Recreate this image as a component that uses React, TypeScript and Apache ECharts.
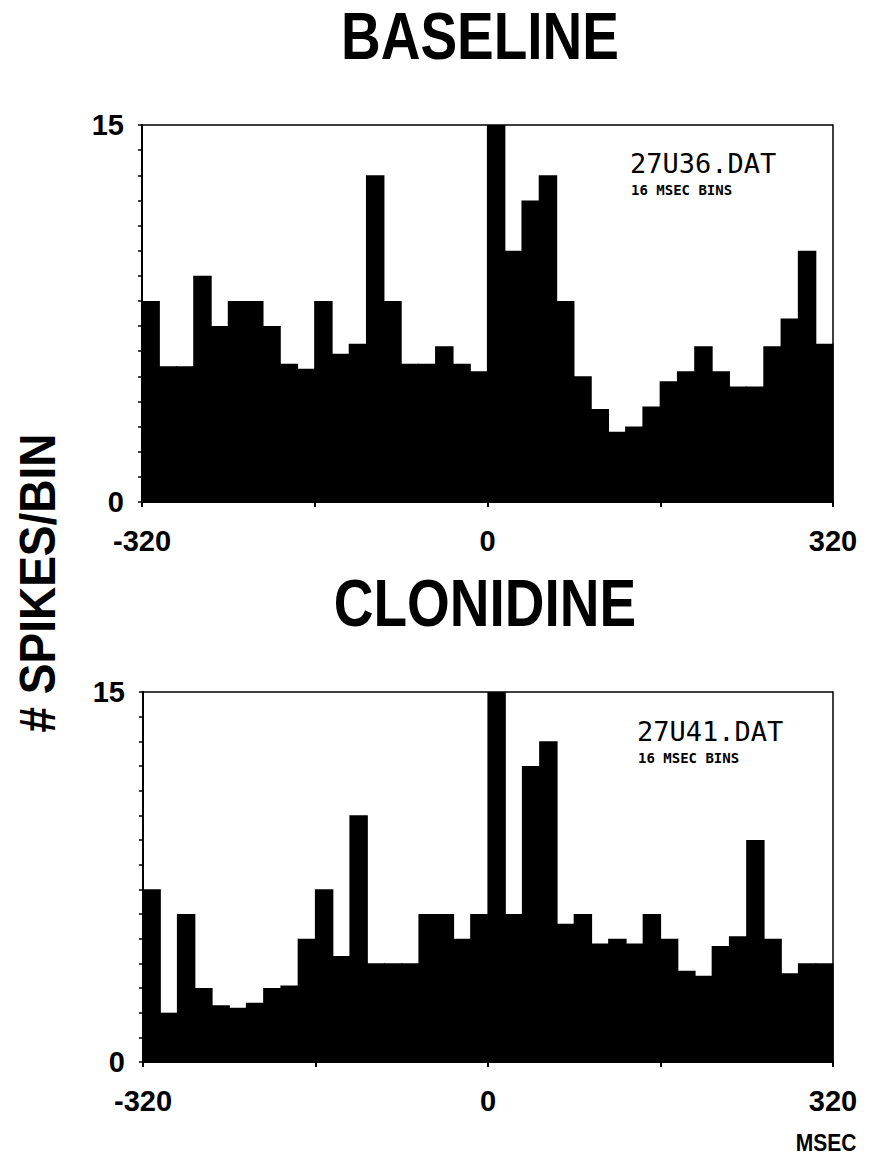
import React, { useEffect, useRef } from "react";
import * as echarts from "echarts";

// 16 msec bins from -320 to +320 msec (40 bins)
const binStarts: number[] = Array.from({ length: 40 }, (_, i) => -320 + 16 * i);

const baselineCounts: number[] = [
  8, 5.4, 5.4, 9, 7, 8, 8, 7, 5.5, 5.3,
  8, 5.9, 6.3, 13, 8, 5.5, 5.5, 6.2, 5.5, 5.2,
  15, 10, 12, 13, 8, 5, 3.7, 2.8, 3, 3.8,
  4.8, 5.2, 6.2, 5.2, 4.6, 4.6, 6.2, 7.3, 10, 6.3,
];

const clonidineCounts: number[] = [
  7, 2, 6, 3, 2.3, 2.2, 2.4, 3, 3.1, 5,
  7, 4.3, 10, 4, 4, 4, 6, 6, 5, 6,
  15, 6, 12, 13, 5.6, 6, 4.8, 5, 4.8, 6,
  5, 3.7, 3.5, 4.7, 5.1, 9, 5, 3.6, 4, 4,
];

const xTickValues: number[] = [-320, -160, 0, 160, 320];
const xLabelValues: number[] = [-320, 0, 320];
const yLabelValues: number[] = [0, 15];

const panelTitles: string[] = ["BASELINE", "CLONIDINE"];
const fileNames: string[] = ["27U36.DAT", "27U41.DAT"];
const binNote = "16 MSEC BINS";
const yTitle = "# SPIKES/BIN";
const xTitle = "MSEC";

const BIN = 16;

export default function App() {
  const ref = useRef<HTMLDivElement>(null);

  useEffect(() => {
    if (!ref.current) return;
    const chart = echarts.init(ref.current, undefined, { renderer: "svg" });

    const grids = [
      { left: 142, top: 125, width: 691, height: 377 },
      { left: 143, top: 692, width: 690, height: 370 },
    ];
    const labelFont = "'Liberation Sans', Arial, sans-serif";

    const xAxes = grids.map((_, gi) => ({
      type: "value",
      gridIndex: gi,
      min: -320,
      max: 320,
      interval: 160,
      axisLine: { show: true, onZero: false, lineStyle: { color: "#000", width: 2 } },
      axisTick: { show: true, inside: false, length: 5, lineStyle: { color: "#000", width: 2 } },
      splitLine: { show: false },
      axisLabel: {
        show: true,
        margin: 24,
        color: "#000",
        fontFamily: labelFont,
        fontWeight: "bold",
        fontSize: 29,
        formatter: (v: number) => (xLabelValues.includes(v) && xTickValues.includes(v) ? String(v) : ""),
      },
    }));

    const yAxes = grids.map((_, gi) => ({
      type: "value",
      gridIndex: gi,
      min: 0,
      max: 15,
      interval: 1,
      axisLine: { show: true, onZero: false, lineStyle: { color: "#000", width: 2 } },
      axisTick: { show: true, inside: false, length: 4, lineStyle: { color: "#000", width: 1.5 } },
      splitLine: { show: false },
      axisLabel: {
        show: true,
        margin: 18,
        color: "#000",
        fontFamily: labelFont,
        fontWeight: "bold",
        fontSize: 29,
        formatter: (v: number) => (yLabelValues.includes(v) ? String(v) : ""),
      },
    }));

    const seriesData = [baselineCounts, clonidineCounts];
    const series = seriesData.map((counts, gi) => ({
      type: "bar",
      xAxisIndex: gi,
      yAxisIndex: gi,
      barWidth: grids[gi].width / binStarts.length + 1.2,
      itemStyle: { color: "#000" },
      data: binStarts.map((s, i) => [s + BIN / 2, counts[i]]),
    }));

    const titleFont = "bold 55px 'Liberation Sans', Arial, sans-serif";
    const text = (x: number, y: number, t: string, font: string, extra: any = {}) => ({
      type: "text",
      x,
      y,
      ...extra,
      style: {
        text: t,
        font,
        fill: "#000",
        align: "center",
        verticalAlign: "middle",
        textAlign: "center",
        textVerticalAlign: "middle",
      },
    });

    const monoText = (x: number, y: number, t: string, font: string) => ({
      type: "text",
      x,
      y,
      style: {
        text: t,
        font,
        fill: "#000",
        align: "left",
        verticalAlign: "middle",
        textAlign: "left",
        textVerticalAlign: "middle",
      },
    });

    const graphic = [
      text(480, 36, panelTitles[0], titleFont, { scaleY: 1.2 }),
      text(485, 603, panelTitles[1], titleFont, { scaleY: 1.2 }),
      text(38, 583, yTitle, "bold 46px 'Liberation Sans', Arial, sans-serif", {
        rotation: Math.PI / 2,
        scaleY: 1.08,
      }),
      text(826, 1143, xTitle, "bold 21px 'Liberation Sans', Arial, sans-serif", { scaleY: 1.15 }),
      monoText(630, 163, fileNames[0], "27px 'DejaVu Sans Mono', monospace"),
      monoText(631, 190, binNote, "bold 14px 'DejaVu Sans Mono', monospace"),
      monoText(637, 731, fileNames[1], "27px 'DejaVu Sans Mono', monospace"),
      monoText(638, 758, binNote, "bold 14px 'DejaVu Sans Mono', monospace"),
    ];

    chart.setOption({
      animation: false,
      backgroundColor: "#fff",
      grid: grids.map((g) => ({
        ...g,
        show: true,
        borderColor: "#000",
        borderWidth: 1.5,
        backgroundColor: "transparent",
        containLabel: false,
      })),
      xAxis: xAxes,
      yAxis: yAxes,
      series,
      graphic,
    });

    return () => chart.dispose();
  }, []);

  return (
    <div
      ref={ref}
      style={{ position: "fixed", left: 0, top: 0, width: 887, height: 1169, background: "#fff" }}
    />
  );
}
